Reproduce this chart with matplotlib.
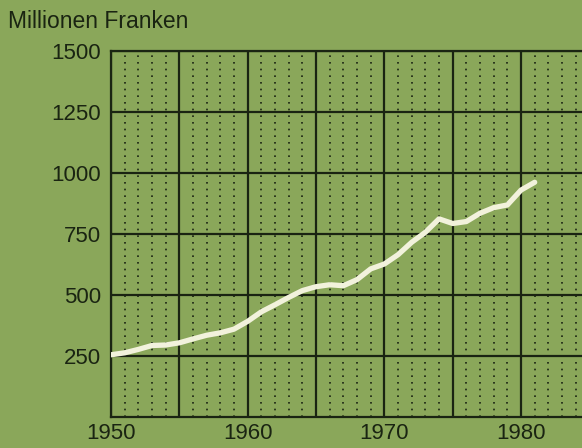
import matplotlib.pyplot as plt

# Datos (millones de francos por año)
anios = list(range(1950, 1982))
valores = [255, 263, 277, 293, 295, 304, 320, 335, 345, 360,
           392, 431, 460, 490, 518, 534, 542, 538, 563, 607,
           627, 665, 716, 757, 812, 793, 801, 835, 858, 869,
           930, 962]

y_ticks = [250, 500, 750, 1000, 1250, 1500]
x_ticks = [1950, 1960, 1970, 1980]

fondo = '#8aa75a'
oscuro = '#1a2412'

plt.rcParams['font.family'] = ['Liberation Sans', 'DejaVu Sans']

fig = plt.figure(figsize=(5.82, 4.48), dpi=100, facecolor=fondo)
ax = fig.add_axes([0.1907, 0.0692, 0.8093, 0.817], facecolor=fondo)

# Lineas punteadas para cada año
for a in range(1950, 1986):
    if a % 5 != 0:
        ax.axvline(a, color=oscuro, linestyle=(0, (1, 3)), linewidth=1.2, zorder=1)

# Rejilla principal
for a in range(1950, 1990, 5):
    ax.axvline(a, color=oscuro, linewidth=1.6, zorder=2)
for v in y_ticks:
    ax.axhline(v, color=oscuro, linewidth=1.6, zorder=2)

ax.plot(anios, valores, color='#f2f2dc', linewidth=3.8, solid_capstyle='round',
        solid_joinstyle='round', zorder=3)

ax.set_xlim(1950, 1984.46)
ax.set_ylim(0, 1500)
ax.set_xticks(x_ticks)
ax.set_yticks(y_ticks)
ax.tick_params(length=0, labelsize=16, colors=oscuro, pad=7)
ax.tick_params(axis='x', pad=4)

for lado in ['left', 'bottom', 'top']:
    ax.spines[lado].set_color(oscuro)
    ax.spines[lado].set_linewidth(1.6)
ax.spines['right'].set_visible(False)

fig.text(8 / 582, 1 - 28 / 448, 'Millionen Franken', fontsize=16.5, color=oscuro,
         ha='left', va='baseline')

plt.savefig('out.png', dpi=100, facecolor=fondo)
